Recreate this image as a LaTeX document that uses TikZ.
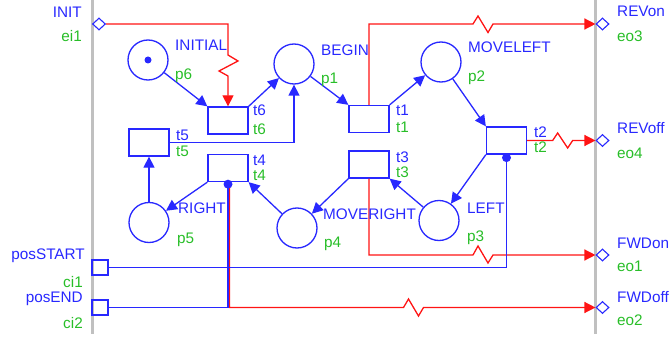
\documentclass[tikz,border=0pt]{standalone}
\usepackage{fontspec}
\setmainfont{Liberation Sans}
\usetikzlibrary{arrows.meta,shapes.geometric}
\definecolor{pblue}{RGB}{40,40,255}
\definecolor{pgreen}{RGB}{40,190,40}
\definecolor{pred}{RGB}{255,20,20}
\definecolor{pgray}{RGB}{192,192,192}
\begin{document}
\begin{tikzpicture}[x=1pt,y=-1pt,
  every node/.style={font=\fontsize{15.3}{17}\selectfont, inner sep=0pt},
  place/.style={circle,draw=pblue,line width=1.3pt,minimum size=40pt},
  trans/.style={rectangle,draw=pblue,line width=1.3pt,minimum width=40pt,minimum height=27pt},
  port/.style={diamond,draw=pblue,line width=1.1pt,minimum width=13pt,minimum height=12pt},
  cport/.style={rectangle,draw=pblue,line width=1.3pt,minimum width=16pt,minimum height=15pt},
  nametxt/.style={text=pblue},
  idtxt/.style={text=pgreen},
  flowarc/.style={draw=pblue,line width=1.3pt,-{Triangle[length=11pt,width=11pt]}},
  eventarc/.style={draw=pred,line width=1.3pt,-{Triangle[length=11pt,width=11pt]}},
  condarc/.style={draw=pblue,line width=1.3pt},
  rail/.style={draw=pgray,line width=3pt}
]
\useasboundingbox (0,0) rectangle (670,337);
% side rails
\coordinate (lt) at (92.3,0);
\coordinate (lb) at (92.3,334);
\coordinate (rt) at (595.3,0);
\coordinate (rb) at (595.3,334);
\draw[rail] (lt) -- (lb);
\draw[rail] (rt) -- (rb);

% places
\node[place] (p6) at (148,60) {};
\node[place] (p1) at (294,64) {};
\node[place] (p2) at (441,62) {};
\node[place] (p3) at (439,220.5) {};
\node[place] (p4) at (297,228) {};
\node[place] (p5) at (149,222.5) {};
\fill[pblue] (p6.center) circle[radius=3.5pt];

% transitions
\node[trans] (t6) at (228,120.5) {};
\node[trans] (t5) at (149,142.5) {};
\node[trans] (t4) at (228,168) {};
\node[trans] (t1) at (369,119) {};
\node[trans] (t3) at (369,164.5) {};
\node[trans] (t2) at (506.5,140.5) {};

% interface ports
\node[port] (ei1) at (99,24) {};
\node[port] (eo3) at (602.5,24) {};
\node[port] (eo4) at (602.5,140.5) {};
\node[port] (eo1) at (602.5,255) {};
\node[port] (eo2) at (602.5,307.5) {};
\node[cport] (ci1) at (100,267.5) {};
\node[cport] (ci2) at (100,307.5) {};

% event arcs (red)
\draw[eventarc] (ei1.east) -- (ei1.east -| t6.north) -- ++(0,31) -- ++(10,6) -- ++(-19,10) -- ++(9,5) -- (t6.north);
\draw[eventarc] (t1.north) -- (t1.north |- eo3.west) -- ++(104,0) -- ++(5,-8) -- ++(10,16.5) -- ++(5,-8.5) -- (eo3.west);
\draw[eventarc] (t2.east) -- ++(25.5,0) -- ++(5,-7.5) -- ++(10,15) -- ++(5,-7.5) -- (eo4.west);
\draw[eventarc] (t3.south) -- (t3.south |- eo1.west) -- ++(104,0) -- ++(5,-9) -- ++(10,17) -- ++(5,-8) -- (eo1.west);
\draw[eventarc] ([xshift=1.5pt]t4.south) -- ([xshift=1.5pt]t4.south |- eo2.west) -- ++(174,0) -- ++(5,-8.5) -- ++(10,17) -- ++(5,-8.5) -- (eo2.west);

% condition arcs (blue, with dot)
\draw[condarc] (ci1.east) -| (t2.south);
\fill[pblue] ([yshift=-3pt]t2.south) circle[radius=4.5pt];
\draw[condarc] (ci2.east) -| (t4.south);
\fill[pblue] ([yshift=-2pt]t4.south) circle[radius=4.5pt];

% flow arcs
\draw[flowarc] (p6) -- (t6.north west);
\draw[flowarc] (t6.north east) -- (p1);
\draw[flowarc] (p1) -- (t1.north west);
\draw[flowarc] (t1.north east) -- (p2);
\draw[flowarc] (p2) -- (t2.north west);
\draw[flowarc] (t2.south west) -- (p3);
\draw[flowarc] (p3) -- (t3.south east);
\draw[flowarc] (t3.south west) -- (p4);
\draw[flowarc] (p4) -- (t4.south east);
\draw[flowarc] (t4.south west) -- (p5);
\draw[flowarc] (p5) -- (t5.south);
\draw[flowarc] (t5.east) -| (p1.south);

% labels
\node[nametxt,anchor=base east] (lINIT) at (82,18) {INIT};
\node[idtxt,anchor=base east] (lei1) at (82,41.5) {ei1};
\node[nametxt,anchor=base west] (lINITIAL) at (175,50.5) {INITIAL};
\node[idtxt,anchor=base west] (lp6) at (175,79.5) {p6};
\node[nametxt,anchor=base west] (lBEGIN) at (321,55.5) {BEGIN};
\node[idtxt,anchor=base west] (lp1) at (321,83.5) {p1};
\node[nametxt,anchor=base west] (lMOVELEFT) at (468,53) {MOVELEFT};
\node[idtxt,anchor=base west] (lp2) at (468,82) {p2};
\node[nametxt,anchor=base west] (lLEFT) at (467,213) {LEFT};
\node[idtxt,anchor=base west] (lp3) at (467,241) {p3};
\node[nametxt,anchor=base west] (lMOVERIGHT) at (323,219) {MOVERIGHT};
\node[idtxt,anchor=base west] (lp4) at (324,247) {p4};
\node[nametxt,anchor=base west] (lRIGHT) at (178,213.5) {RIGHT};
\node[idtxt,anchor=base west] (lp5) at (177,243) {p5};

\node[nametxt,anchor=base west] (lt6a) at (253,116) {t6};
\node[idtxt,anchor=base west] (lt6b) at (253,135) {t6};
\node[nametxt,anchor=base west] (lt5a) at (176,140) {t5};
\node[idtxt,anchor=base west] (lt5b) at (176,156) {t5};
\node[nametxt,anchor=base west] (lt4a) at (253,165) {t4};
\node[idtxt,anchor=base west] (lt4b) at (253,180) {t4};
\node[nametxt,anchor=base west] (lt1a) at (396,116) {t1};
\node[idtxt,anchor=base west] (lt1b) at (396,132) {t1};
\node[nametxt,anchor=base west] (lt3a) at (396,162) {t3};
\node[idtxt,anchor=base west] (lt3b) at (396,177) {t3};
\node[nametxt,anchor=base west] (lt2a) at (534,137) {t2};
\node[idtxt,anchor=base west] (lt2b) at (534,153) {t2};

\node[nametxt,anchor=base west] (lREVon) at (617,17) {REVon};
\node[idtxt,anchor=base west] (leo3) at (617,42) {eo3};
\node[nametxt,anchor=base west] (lREVoff) at (617,133) {REVoff};
\node[idtxt,anchor=base west] (leo4) at (617,158) {eo4};
\node[nametxt,anchor=base west] (lFWDon) at (617,248) {FWDon};
\node[idtxt,anchor=base west] (leo1) at (617,271) {eo1};
\node[nametxt,anchor=base west] (lFWDoff) at (617,302) {FWDoff};
\node[idtxt,anchor=base west] (leo2) at (617,325) {eo2};

\node[nametxt,anchor=base east] (lposSTART) at (85,259) {posSTART};
\node[idtxt,anchor=base east] (lci1) at (83,287) {ci1};
\node[nametxt,anchor=base east] (lposEND) at (83,302) {posEND};
\node[idtxt,anchor=base east] (lci2) at (83,328) {ci2};
\end{tikzpicture}
\end{document}
